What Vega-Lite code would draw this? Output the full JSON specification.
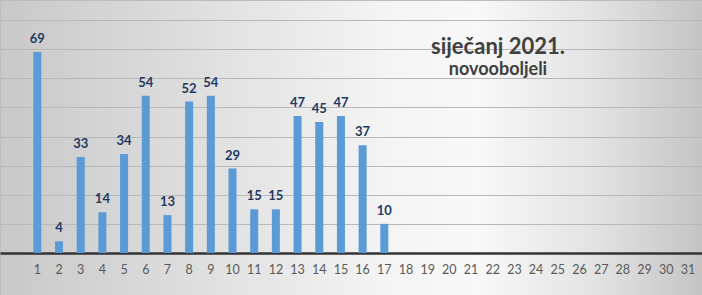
{
  "$schema": "https://vega.github.io/schema/vega-lite/v6.json",
  "width": 702,
  "height": 295,
  "autosize": "none",
  "padding": 0,
  "background": "#d8d8d8",
  "title": {
    "text": "siječanj 2021.",
    "subtitle": "novooboljeli",
    "anchor": "middle",
    "frame": "group",
    "dx": 147,
    "offset": -80,
    "font": "Lato",
    "fontSize": 22,
    "fontWeight": "bold",
    "color": "#404040",
    "subtitleFont": "Lato",
    "subtitleFontSize": 18,
    "subtitleFontWeight": "bold",
    "subtitleColor": "#404040",
    "subtitlePadding": 2
  },
  "data": {
    "values": [
      {"day": 1, "count": 69},
      {"day": 2, "count": 4},
      {"day": 3, "count": 33},
      {"day": 4, "count": 14},
      {"day": 5, "count": 34},
      {"day": 6, "count": 54},
      {"day": 7, "count": 13},
      {"day": 8, "count": 52},
      {"day": 9, "count": 54},
      {"day": 10, "count": 29},
      {"day": 11, "count": 15},
      {"day": 12, "count": 15},
      {"day": 13, "count": 47},
      {"day": 14, "count": 45},
      {"day": 15, "count": 47},
      {"day": 16, "count": 37},
      {"day": 17, "count": 10}
    ]
  },
  "encoding": {
    "x": {
      "field": "day",
      "type": "ordinal",
      "scale": {
        "domain": [1,2,3,4,5,6,7,8,9,10,11,12,13,14,15,16,17,18,19,20,21,22,23,24,25,26,27,28,29,30,31],
        "paddingInner": 0.63,
        "paddingOuter": 1.088,
        "align": 0.768
      },
      "axis": {
        "title": null,
        "orient": "bottom",
        "offset": -42,
        "domain": false,
        "ticks": false,
        "labelAngle": 0,
        "labelPadding": 10,
        "labelFont": "Lato",
        "labelFontSize": 12.5,
        "labelColor": "#595959",
        "grid": false
      }
    },
    "y": {
      "field": "count",
      "type": "quantitative",
      "scale": {"domain": [-14.42, 86.87], "nice": false, "zero": false},
      "axis": {
        "title": null,
        "values": [0, 10, 20, 30, 40, 50, 60, 70, 80],
        "labels": false,
        "ticks": false,
        "domain": false,
        "grid": true,
        "gridColor": {"condition": {"test": "datum.value === 0", "value": "#333333"}, "value": "#b8b8b8"},
        "gridWidth": {"condition": {"test": "datum.value === 0", "value": 2.5}, "value": 1.2}
      }
    }
  },
  "layer": [
    {
      "mark": {"type": "bar", "color": "#5b9bd5"}
    },
    {
      "mark": {
        "type": "text",
        "baseline": "bottom",
        "dy": -6,
        "font": "Lato",
        "fontSize": 13,
        "fontWeight": "bold",
        "color": "#1f3a5f"
      },
      "encoding": {"text": {"field": "count", "type": "quantitative"}}
    }
  ],
  "config": {
    "view": {
      "stroke": "#bcbcbc",
      "strokeWidth": 1,
      "fill": {
        "gradient": "linear",
        "x1": 0, "y1": 0, "x2": 1, "y2": 0,
        "stops": [
          {"offset": 0, "color": "#c8c8c8"},
          {"offset": 0.3, "color": "#e0e0e0"},
          {"offset": 0.55, "color": "#f4f4f4"},
          {"offset": 0.68, "color": "#f8f8f8"},
          {"offset": 0.85, "color": "#e2e2e2"},
          {"offset": 1, "color": "#c4c4c4"}
        ]
      }
    }
  }
}
